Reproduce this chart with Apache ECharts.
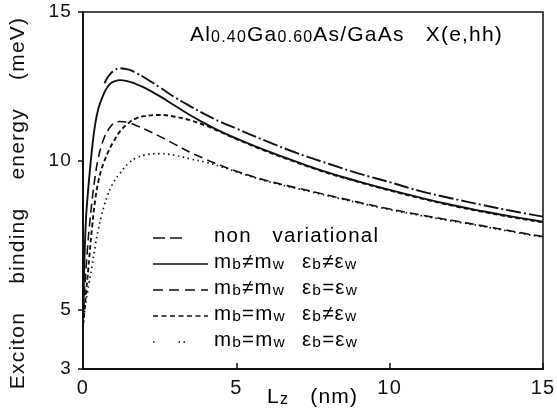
<!DOCTYPE html>
<html><head><meta charset="utf-8">
<script src="https://cdn.jsdelivr.net/npm/echarts@6/dist/echarts.min.js"></script>
<style>html,body{margin:0;padding:0;background:#fff}#c{width:557px;height:408px}</style>
</head><body><div id="c"></div>
<script>
// Well width Lz (nm)
const lz = [0, 0.05, 0.1, 0.15, 0.2, 0.3, 0.4, 0.5, 0.6, 0.7, 0.8, 0.9, 1.0, 1.2, 1.5, 1.75, 2, 2.5, 3, 3.5, 4, 4.5, 5, 6, 7, 8, 9, 10, 11, 12, 13, 14, 15];
// Exciton binding energy (meV)
const nonVariational = [null, null, null, null, null, null, null, null, null, 12.6, 12.8, 12.93, 13.02, 13.11, 13.06, 12.94, 12.8, 12.47, 12.13, 11.83, 11.55, 11.3, 11.08, 10.65, 10.25, 9.9, 9.57, 9.28, 8.98, 8.74, 8.52, 8.31, 8.12];
const mbNeEbNe = [4.6, 6.8, 8.1, 8.8, 9.4, 10.45, 11.25, 11.75, 12.05, 12.3, 12.48, 12.6, 12.66, 12.71, 12.66, 12.57, 12.46, 12.17, 11.85, 11.53, 11.24, 10.98, 10.75, 10.33, 9.95, 9.6, 9.3, 9.02, 8.76, 8.52, 8.31, 8.12, 7.95];
const mbNeEbEq = [4.5, 5.6, 6.4, 7.1, 7.7, 8.7, 9.5, 10.1, 10.5, 10.8, 11.0, 11.15, 11.25, 11.32, 11.28, 11.18, 11.07, 10.82, 10.55, 10.28, 10.05, 9.84, 9.65, 9.33, 9.08, 8.84, 8.6, 8.38, 8.18, 8.0, 7.82, 7.63, 7.45];
const mbEqEbNe = [4.5, 5.0, 5.6, 6.1, 6.7, 7.8, 8.7, 9.3, 9.7, 10.0, 10.25, 10.47, 10.65, 10.98, 11.28, 11.43, 11.5, 11.54, 11.48, 11.36, 11.18, 10.96, 10.73, 10.31, 9.93, 9.58, 9.28, 9.0, 8.74, 8.5, 8.29, 8.1, 7.93];
const mbEqEbEq = [4.4, 4.9, 5.3, 5.6, 5.9, 6.5, 7.15, 7.7, 8.15, 8.52, 8.83, 9.08, 9.28, 9.57, 9.93, 10.1, 10.19, 10.24, 10.18, 10.06, 9.95, 9.8, 9.63, 9.31, 9.06, 8.82, 8.58, 8.36, 8.16, 7.98, 7.8, 7.61, 7.43];
const xTicks = [0, 5, 10, 15];
const yTicks = [3, 5, 10, 15];

const FONT = "'Liberation Sans', Arial, Helvetica, sans-serif";
const INK = '#111';
// old typeset figure: slightly tracked lettering
const LS = 1.2;
(function () {
  const P = CanvasRenderingContext2D.prototype;
  const orig = P.fillText;
  P.fillText = function (t, x, y, m) {
    if ('letterSpacing' in this) this.letterSpacing = LS + 'px';
    return m === undefined ? orig.call(this, t, x, y) : orig.call(this, t, x, y, m);
  };
})();

function richText(parts, mainSize, subSize) {
  const rich = {};
  let text = '';
  parts.forEach(function (p, i) {
    const kind = p[0], str = p[1], key = kind + i;
    const base = kind === 's' ? {fontSize: subSize, lineHeight: 13} : {fontSize: mainSize, lineHeight: 22};
    rich[key] = Object.assign({fontFamily: FONT, color: INK, verticalAlign: 'bottom', padding: [0, str.length * LS, 0, 0]}, base);
    text += '{' + key + '|' + str + '}';
  });
  return {text: text, rich: rich};
}

const chart = echarts.init(document.getElementById('c'), null, {renderer: 'canvas'});

function pairs(ys) {
  return lz.map((x, i) => [x, ys[i]]).filter(p => p[1] != null);
}
function line(name, ys, type, width) {
  return {
    type: 'line', name: name, data: pairs(ys), symbol: 'none', smooth: 0.45,
    lineStyle: {color: INK, width: width, type: type, cap: 'butt', join: 'round'},
    silent: true, z: 3
  };
}

const legendRows = [
  {y: 238, dash: [12, 5], x2: 183, label: [['a', 'non   variational']], eps: null},
  {y: 264, dash: null, x2: 208, label: [['a', 'm'], ['s', 'b'], ['a', '≠m'], ['s', 'w']], eps: [['a', 'ε'], ['s', 'b'], ['a', '≠ε'], ['s', 'w']]},
  {y: 290, dash: [10, 6], x2: 208, label: [['a', 'm'], ['s', 'b'], ['a', '≠m'], ['s', 'w']], eps: [['a', 'ε'], ['s', 'b'], ['a', '=ε'], ['s', 'w']]},
  {y: 316, dash: [5, 3.5], x2: 208, label: [['a', 'm'], ['s', 'b'], ['a', '=m'], ['s', 'w']], eps: [['a', 'ε'], ['s', 'b'], ['a', '≠ε'], ['s', 'w']]},
  {y: 342, dash: [1.5, 24, 1.5, 3.5], x2: 190, label: [['a', 'm'], ['s', 'b'], ['a', '=m'], ['s', 'w']], eps: [['a', 'ε'], ['s', 'b'], ['a', '=ε'], ['s', 'w']]}
];
const graphics = [];
legendRows.forEach(r => {
  graphics.push({type: 'line', shape: {x1: 153, y1: r.y, x2: r.x2, y2: r.y},
    style: {stroke: INK, lineWidth: 1.6, lineDash: r.dash || null}, silent: true});
  const t = richText(r.label, 20.5, 15.5);
  graphics.push({type: 'text', x: 214, y: r.y - 2, style: {text: t.text, rich: t.rich, verticalAlign: 'middle', align: 'left'}, silent: true});
  if (r.eps) {
    const e = richText(r.eps, 20.5, 15.5);
    graphics.push({type: 'text', x: 302, y: r.y - 2, style: {text: e.text, rich: e.rich, verticalAlign: 'middle', align: 'left'}, silent: true});
  }
});
const title = richText([['a', 'Al'], ['s', '0.40'], ['a', 'Ga'], ['s', '0.60'], ['a', 'As/GaAs   X(e,hh)']], 21, 16);
graphics.push({type: 'text', x: 190, y: 24, style: {text: title.text, rich: title.rich, verticalAlign: 'top', align: 'left'}, silent: true});
const xName = richText([['a', 'L'], ['s', 'z'], ['a', '   (nm)']], 21, 16);
graphics.push({type: 'text', x: 267, y: 386, style: {text: xName.text, rich: xName.rich, verticalAlign: 'top', align: 'left'}, silent: true});
graphics.push({type: 'text', x: 18, y: 203, rotation: Math.PI / 2,
  style: {text: 'Exciton    binding    energy    (meV)', fontSize: 21, fontFamily: FONT, fill: INK, align: 'center', verticalAlign: 'middle'}, silent: true});

chart.setOption({
  animation: false,
  backgroundColor: '#fff',
  grid: {left: 83, right: 14, top: 12, bottom: 39, containLabel: false, outerBoundsMode: 'none',
    show: true, borderColor: INK, borderWidth: 1.5, backgroundColor: 'transparent'},
  xAxis: {
    type: 'value', min: 0, max: 15, interval: 5,
    axisLine: {lineStyle: {color: INK, width: 2}},
    axisTick: {customValues: xTicks, inside: true, length: 6, lineStyle: {color: INK, width: 1.5}},
    axisLabel: {customValues: xTicks, fontSize: 20, fontFamily: FONT, color: INK, margin: 9},
    splitLine: {show: false}
  },
  yAxis: {
    type: 'value', min: 3, max: 15,
    axisLine: {lineStyle: {color: INK, width: 2}},
    axisTick: {customValues: yTicks, length: 5, lineStyle: {color: INK, width: 1.5}},
    axisLabel: {customValues: yTicks, fontSize: 19, fontFamily: FONT, color: INK, margin: 11},
    splitLine: {show: false}
  },
  series: [
    line('non variational', nonVariational, [15, 3, 2, 3], 1.9),
    line('mb≠mw εb≠εw', mbNeEbNe, 'solid', 1.9),
    line('mb≠mw εb=εw', mbNeEbEq, [9, 5], 1.6),
    line('mb=mw εb≠εw', mbEqEbNe, [4.5, 3], 1.9),
    line('mb=mw εb=εw', mbEqEbEq, [1.5, 3.5], 1.7)
  ],
  graphic: graphics
});
</script>
</body></html>
